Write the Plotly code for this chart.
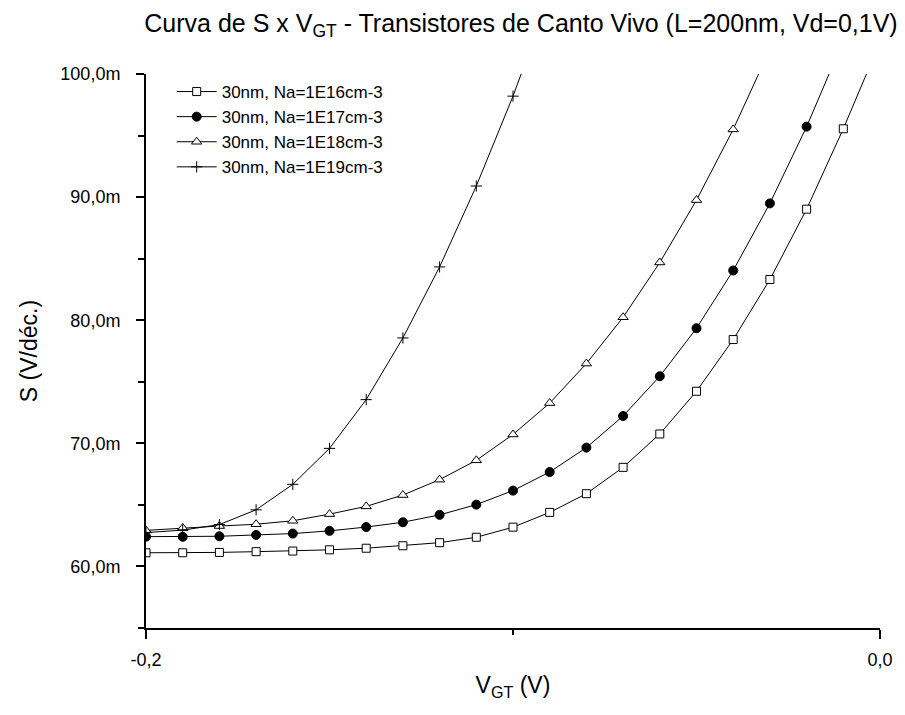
import plotly.graph_objects as go

# V_GT (V)
vgt = [-0.20, -0.19, -0.18, -0.17, -0.16, -0.15, -0.14, -0.13, -0.12, -0.11,
       -0.10, -0.09, -0.08, -0.07, -0.06, -0.05, -0.04, -0.03, -0.02, -0.01, 0.00]

# S (mV/dec)
s_1e16 = [61.11, 61.11, 61.14, 61.20, 61.25, 61.35, 61.48, 61.68, 61.93, 62.37,
          63.19, 64.39, 65.91, 68.05, 70.76, 74.23, 78.43, 83.31, 89.02, 95.55, 102.6]
s_1e17 = [62.42, 62.41, 62.45, 62.56, 62.67, 62.89, 63.20, 63.59, 64.19, 65.02,
          66.16, 67.67, 69.65, 72.22, 75.45, 79.35, 84.04, 89.49, 95.72, 102.7]
s_1e18 = [62.93, 63.13, 63.28, 63.43, 63.71, 64.25, 64.88, 65.80, 67.05, 68.62,
          70.72, 73.27, 76.48, 80.24, 84.69, 89.76, 95.50, 102.0]
s_1e19 = [62.75, 62.95, 63.40, 64.60, 66.67, 69.59, 73.55, 78.56, 84.33, 90.90,
          98.20, 106.3]

names = ["30nm, Na=1E16cm-3", "30nm, Na=1E17cm-3",
         "30nm, Na=1E18cm-3", "30nm, Na=1E19cm-3"]

y_tickvals = [60, 70, 80, 90, 100]
y_ticktext = ["60,0m", "70,0m", "80,0m", "90,0m", "100,0m"]
x_tickvals = [-0.2, 0.0]
x_ticktext = ["-0,2", "0,0"]

FONT = "Liberation Sans, Arial, sans-serif"

series = [
    (s_1e16, dict(symbol="square", size=8, color="white", line=dict(color="black", width=1))),
    (s_1e17, dict(symbol="circle", size=9, color="black", line=dict(color="black", width=1))),
    (s_1e18, dict(symbol="triangle-up", size=9, color="white", line=dict(color="black", width=1))),
    (s_1e19, dict(symbol="cross-thin", size=8, color="black", line=dict(color="black", width=1))),
]

fig = go.Figure()
for (vals, mk), nm in zip(series, names):
    fig.add_trace(go.Scatter(
        x=vgt[:len(vals)], y=vals, mode="lines+markers", name=nm,
        line=dict(color="black", width=1), marker=mk, cliponaxis=True,
    ))

fig.update_layout(
    width=905, height=715,
    margin=dict(l=146, r=20, t=74, b=87),
    paper_bgcolor="white", plot_bgcolor="white",
    font=dict(family=FONT, color="black", size=17),
    title=dict(
        text="Curva de S x V<sub>GT</sub> - Transistores de Canto Vivo (L=200nm, Vd=0,1V)",
        x=521 / 905, xanchor="center", xref="container",
        y=1 - 23 / 715, yanchor="middle", yref="container",
        font=dict(family=FONT, size=25, color="black"),
    ),
    showlegend=True,
    legend=dict(
        x=0.035, y=1.0, xanchor="left", yanchor="top",
        bgcolor="rgba(0,0,0,0)", font=dict(family=FONT, size=17),
        tracegroupgap=0, itemwidth=40,
    ),
    xaxis=dict(
        range=[-0.2, 0.0], showgrid=False, zeroline=False,
        showline=True, linecolor="black", linewidth=2, mirror=False,
        tickmode="array", tickvals=x_tickvals, ticktext=x_ticktext,
        ticks="outside", ticklen=9, tickwidth=2, tickcolor="black",
        tickfont=dict(family=FONT, size=18), ticklabelstandoff=5,
        minor=dict(tickmode="array", tickvals=[-0.1], ticks="outside", ticklen=5,
                   tickwidth=2, tickcolor="black", showgrid=False),
        title=dict(text="V<sub>GT</sub> (V)", font=dict(family=FONT, size=23), standoff=8),
    ),
    yaxis=dict(
        range=[55, 100], showgrid=False, zeroline=False,
        showline=True, linecolor="black", linewidth=2, mirror=False,
        tickmode="array", tickvals=y_tickvals, ticktext=y_ticktext,
        ticks="outside", ticklen=8, tickwidth=2, tickcolor="black",
        tickfont=dict(family=FONT, size=18), ticklabelstandoff=12,
        minor=dict(tickmode="array", tickvals=[55, 65, 75, 85, 95], ticks="outside",
                   ticklen=6, tickwidth=2, tickcolor="black", showgrid=False),
        title=dict(text="S (V/déc.)", font=dict(family=FONT, size=23), standoff=16),
    ),
)

fig.write_html("out.html")
